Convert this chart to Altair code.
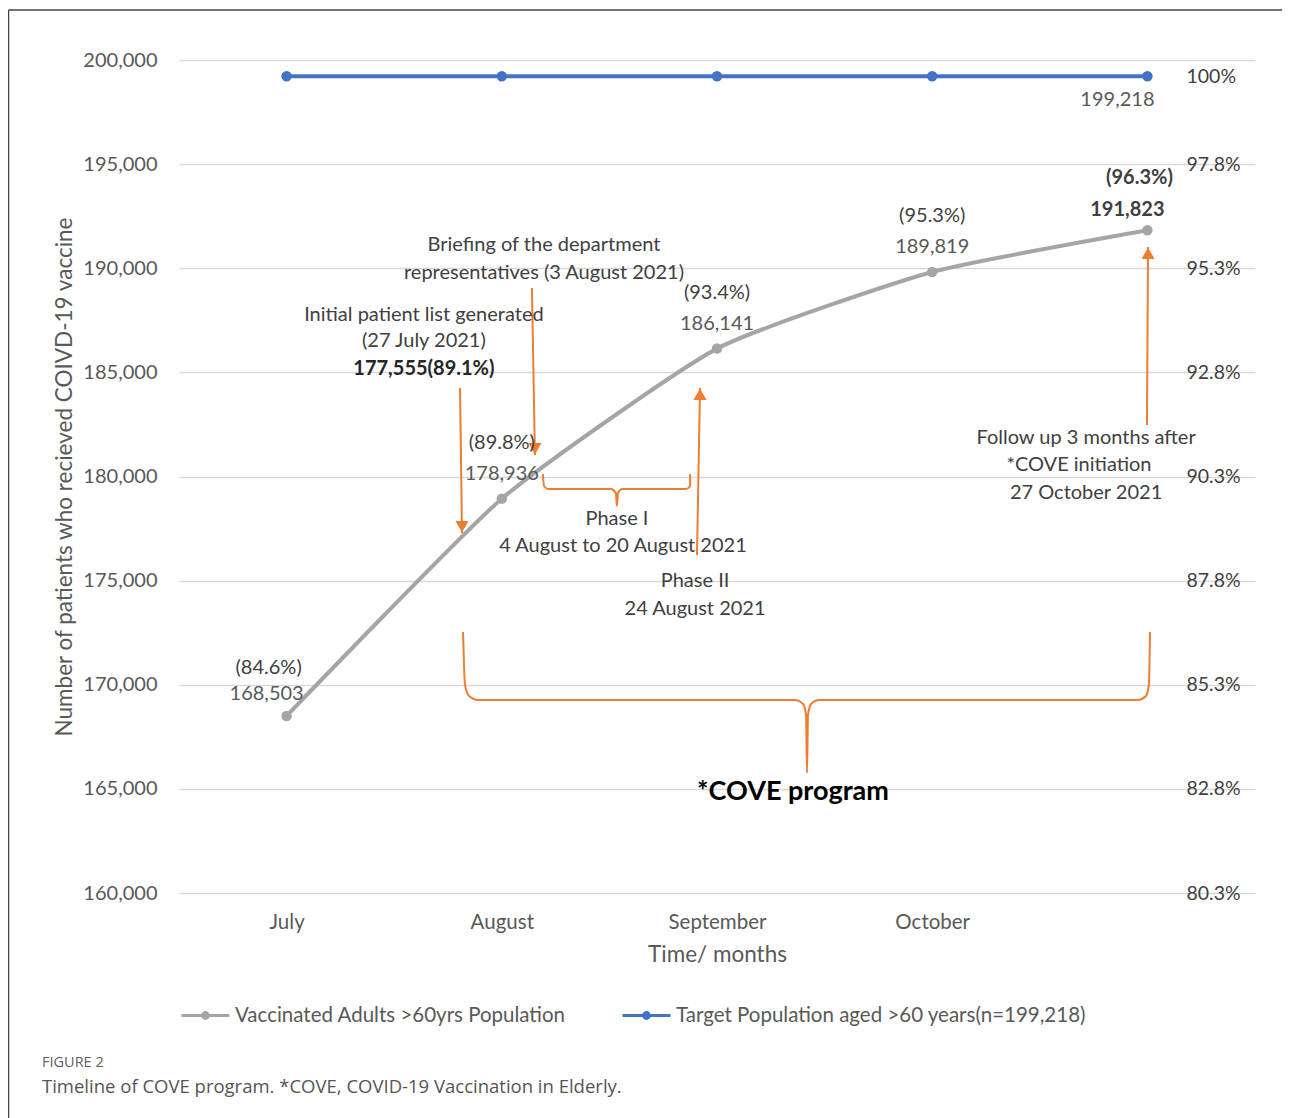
import json
import altair as alt
import pandas as pd

# ---------------- data ----------------
months = ["July", "August", "September", "October", ""]
vaccinated = [168503, 178936, 186141, 189819, 191823]
target = [199218, 199218, 199218, 199218, 199218]
TARGET_N = 199218
series_names = ["Vaccinated Adults >60yrs Population",
                "Target Population aged >60 years(n=199,218)"]
series_colors = ["#A5A5A5", "#4472C4"]

left_ticks = [160000, 165000, 170000, 175000, 180000, 185000, 190000, 195000, 200000]
right_ticks = [160000, 165000, 170000, 175000, 180000, 185000, 190000, 195000, 199218]
right_labels = ["80.3%", "82.8%", "85.3%", "87.8%", "90.3%", "92.8%", "95.3%", "97.8%", "100%"]

# annotation arrows (x in month index units, y in patients)
arrow_x0 = [0.806, 1.140, 1.907, 3.998]
arrow_y0 = [184250, 189052, 176231, 182473]
arrow_x1 = [0.815, 1.154, 1.921, 4.003]
arrow_y1 = [177287, 181033, 184250, 191021]
arrow_dir = ["down", "down", "up", "up"]

# annotation texts
ann_text = ["Initial patient list generated", "(27 July 2021)",
            "Briefing of the department", "representatives (3 August 2021)",
            "Phase I", "4 August to 20 August 2021",
            "Phase II", "24 August 2021",
            "Follow up 3 months after", "*COVE initiation", "27 October 2021"]
ann_x = [0.638, 0.638, 1.196, 1.196, 1.535, 1.563, 1.898, 1.898, 3.715, 3.682, 3.715]
ann_y = [187756, 186507, 191117, 189772, 177959, 176663, 174982, 173638, 181849, 180553, 179208]
bold_text = ["177,555(89.1%)"]
bold_x = [0.638]
bold_y = [185162]
big_text = ["*COVE program"]
big_x = [2.353]
big_y = [164850]

# curly brackets
brace1_x = [1.191, 1.196, 1.215, 1.507, 1.530, 1.535, 1.540, 1.559, 1.856, 1.875, 1.875]
brace1_y = [180120, 179544, 179400, 179400, 179208, 178584, 179208, 179400, 179400, 179544, 180120]
brace2_x = [0.820, 0.829, 0.848, 0.889, 2.362, 2.400, 2.414, 2.418, 2.423, 2.437, 2.474,
            3.956, 3.993, 4.007, 4.012]
brace2_y = [172533, 169988, 169460, 169268, 169268, 169076, 168548, 165762, 168548, 169076,
            169268, 169268, 169460, 169988, 172533]

# ---------------- tables ----------------
df = pd.DataFrame({
    "idx": list(range(5)) * 2,
    "month": months * 2,
    "value": vaccinated + target,
    "series": [series_names[0]] * 5 + [series_names[1]] * 5,
})
vac = df[df.series == series_names[0]]
tgt = df[df.series == series_names[1]]
arrows = pd.DataFrame({"x0": arrow_x0, "y0": arrow_y0, "x1": arrow_x1, "y1": arrow_y1, "dir": arrow_dir})
ann = pd.DataFrame({"t": ann_text, "x": ann_x, "y": ann_y})
annb = pd.DataFrame({"t": bold_text, "x": bold_x, "y": bold_y})
annbig = pd.DataFrame({"t": big_text, "x": big_x, "y": big_y})
braces = pd.DataFrame({
    "x": brace1_x + brace2_x,
    "y": brace1_y + brace2_y,
    "b": ["b1"] * len(brace1_x) + ["b2"] * len(brace2_x),
    "o": list(range(len(brace1_x))) + list(range(len(brace2_x))),
})
one = pd.DataFrame({"a": [0]})

FONT = "Lato"
GREY_TXT = "#595959"
DARK_TXT = "#404040"
ORANGE = "#ED7D31"
TXT = 20

x_axis = alt.Axis(values=list(range(5)),
                  labelExpr=json.dumps(months) + "[datum.value]",
                  title="Time/ months", grid=False, ticks=False, domain=False,
                  labelPadding=19, titlePadding=11, labelFontSize=20.5, titleFontSize=22.5,
                  labelColor=GREY_TXT, titleColor=GREY_TXT, titleFontWeight="normal",
                  labelFont=FONT, titleFont=FONT)
left_axis = alt.Axis(values=left_ticks, labelExpr="format(datum.value, ',')",
                     grid=True, gridColor="#D9D9D9", gridWidth=1.5,
                     ticks=False, domain=False, labelPadding=22, labelFontSize=20,
                     labelColor=GREY_TXT, labelFont=FONT,
                     title="Number of patients who recieved COIVD-19 vaccine",
                     titleFontSize=22.5, titleColor=GREY_TXT, titleFont=FONT,
                     titleFontWeight="normal", titlePadding=6)
rexpr = "''"
for v, l in reversed(list(zip(right_ticks, right_labels))):
    rexpr = f"datum.value == {v} ? '{l}' : ({rexpr})"
right_axis = alt.Axis(orient="right", values=right_ticks, labelExpr=rexpr, grid=False,
                      ticks=False, domain=False, offset=-72, labelPadding=3,
                      labelFontSize=19.5, labelColor=DARK_TXT, labelFont=FONT,
                      labelOverlap=False, title=None, labelAlign="left")


def X(f):
    return alt.X(f, type="quantitative", scale=alt.Scale(domain=[-0.5, 4.5], nice=False, zero=False),
                 axis=x_axis)


def Y(f, axis=left_axis):
    return alt.Y(f, type="quantitative", scale=alt.Scale(domain=[160000, 200000], nice=False, zero=False),
                 axis=axis)


LEG_PATH = "M-1,0L1,0M-0.12,0A0.12,0.12,0,1,1,0.12,0A0.12,0.12,0,1,1,-0.12,0Z"


def make_legend():
    return alt.Legend(title=None, orient="none", direction="horizontal", legendX=1, legendY=930,
                      symbolType=LEG_PATH, symbolSize=2304, symbolStrokeWidth=3, symbolOpacity=1,
                      labelFont=FONT, labelFontSize=20.5, labelColor=GREY_TXT, labelOffset=4,
                      columnPadding=50, padding=0, labelLimit=700)


cscale = alt.Scale(domain=series_names, range=series_colors)
lines = alt.Chart(df).mark_line(strokeWidth=4, interpolate="cardinal", tension=0.5).encode(
    x=X("idx"), y=Y("value"),
    stroke=alt.Stroke("series:N", scale=cscale, legend=make_legend()), detail="series:N")
points = alt.Chart(df).mark_point(filled=True, size=110, opacity=1, strokeWidth=0).encode(
    x=X("idx"), y=Y("value"),
    fill=alt.Fill("series:N", scale=cscale, legend=make_legend()))

pct = "'(' + format(datum.value / %d * 100, '.1f') + '%%)'" % TARGET_N


def val_label(data, dx, dy, bold=False):
    return alt.Chart(data).mark_text(font=FONT, fontSize=TXT, color=GREY_TXT if not bold else DARK_TXT,
                                     dx=dx, dy=dy, fontWeight="bold" if bold else "normal").encode(
        x=X("idx"), y=Y("value"), text=alt.Text("value:Q", format=","))


def pct_label(data, dx, dy, bold=False):
    return alt.Chart(data).transform_calculate(p=pct).mark_text(
        font=FONT, fontSize=TXT, color=DARK_TXT, dx=dx, dy=dy,
        fontWeight="bold" if bold else "normal").encode(
        x=X("idx"), y=Y("value"), text="p:N")


vac_first = vac[vac.idx == 0]
vac_mid = vac[(vac.idx > 0) & (vac.idx < 4)]
vac_last = vac[vac.idx == 4]
tgt_last = tgt[tgt.idx == 4]

labels = [
    val_label(vac_first, -20, -22), val_label(vac_mid, 0, -25), val_label(vac_last, -20, -20, True),
    pct_label(vac_first, -18, -48), pct_label(vac_mid, 0, -56), pct_label(vac_last, -8, -52, True),
    val_label(tgt_last, -30, 24),
]

arrow_lines = alt.Chart(arrows).mark_rule(color=ORANGE, strokeWidth=2).encode(
    x=X("x0"), x2="x1:Q", y=Y("y0"), y2="y1:Q")
heads = alt.Chart(arrows).transform_calculate(
    yc="datum.dir == 'down' ? datum.y1 + 300 : datum.y1 - 300",
    shp="datum.dir == 'down' ? 'triangle-down' : 'triangle-up'",
).mark_point(filled=True, size=170, color=ORANGE, opacity=1).encode(
    x=X("x1"), y=Y("yc"), shape=alt.Shape("shp:N", scale=None))
brace_lines = alt.Chart(braces).mark_line(color=ORANGE, strokeWidth=2, interpolate="monotone").encode(
    x=X("x"), y=Y("y"), detail="b:N", order="o:Q")
ann_t = alt.Chart(ann).mark_text(font=FONT, fontSize=TXT, color=DARK_TXT).encode(
    x=X("x"), y=Y("y"), text="t:N")
ann_b = alt.Chart(annb).mark_text(font=FONT, fontSize=TXT, color="#262626", fontWeight="bold").encode(
    x=X("x"), y=Y("y"), text="t:N")
ann_big = alt.Chart(annbig).mark_text(font=FONT, fontSize=27, color="#000000", fontWeight="bold").encode(
    x=X("x"), y=Y("y"), text="t:N")

border_top = alt.Chart(one).mark_rule(color="#444444", strokeWidth=1.5).encode(
    x=alt.value(-170.5), x2=alt.value(1104), y=alt.value(-50))
border_left = alt.Chart(one).mark_rule(color="#444444", strokeWidth=1.5).encode(
    x=alt.value(-170.5), y=alt.value(-50), y2=alt.value(1060))
cap1 = alt.Chart(one).mark_text(text="FIGURE 2", font="Open Sans", fontSize=14.5, color="#5f5f5f",
                                align="left", baseline="middle").encode(
    x=alt.value(-137), y=alt.value(1003))
cap2 = alt.Chart(one).mark_text(text="Timeline of COVE program. *COVE, COVID-19 Vaccination in Elderly.",
                                font="Open Sans", fontSize=18.5, color="#555555",
                                align="left", baseline="middle").encode(
    x=alt.value(-137), y=alt.value(1027))

inner = alt.layer(brace_lines, arrow_lines, heads, lines, points, *labels, ann_t, ann_b, ann_big,
                  border_top, border_left, cap1, cap2)

right_layer = alt.Chart(tgt).mark_point(opacity=0).encode(x=X("idx"), y=Y("value", right_axis))

chart = alt.layer(inner, right_layer).resolve_axis(y="independent").properties(
    width=1076, height=833,
    autosize=alt.AutoSizeParams(type="none"),
    padding={"left": 171, "top": 52, "right": 27, "bottom": 225},
    background="white",
).configure_view(stroke=None)

chart.save("out.html", embed_options={"renderer": "svg", "actions": False})
